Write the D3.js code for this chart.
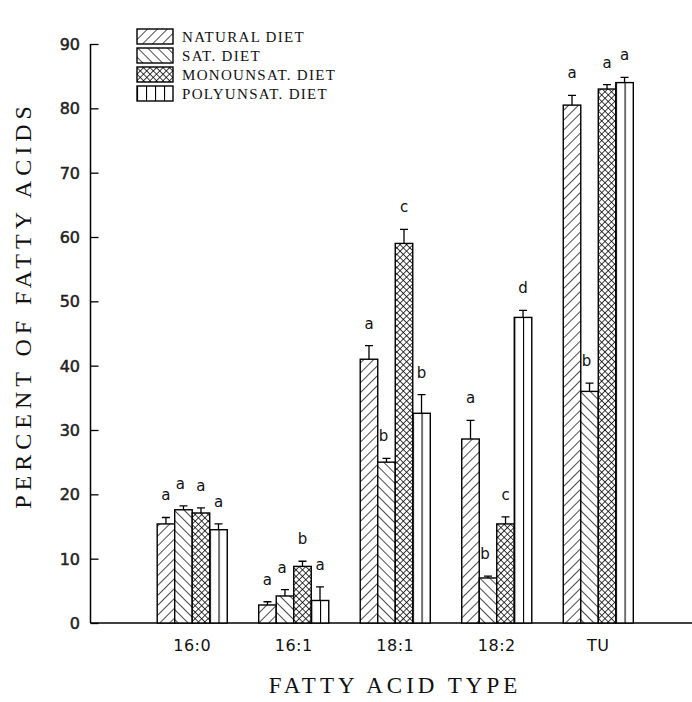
<!DOCTYPE html>
<html lang="en">
<head>
<meta charset="UTF-8">
<title>Fatty acids by diet</title>
<script src="https://cdn.jsdelivr.net/npm/d3@7/dist/d3.min.js"></script>
<style>
body{margin:0;background:#fff;}
svg{display:block;}
</style>
</head>
<body>
<script>
// data
var categories = ["16:0","16:1","18:1","18:2","TU"];
var seriesNames = ["NATURAL DIET","SAT. DIET","MONOUNSAT. DIET","POLYUNSAT. DIET"];
var natural    = [15.4, 2.8, 41.0, 28.6, 80.5];
var naturalErr = [1.0, 0.5, 2.1, 2.9, 1.5];
var sat        = [17.6, 4.2, 25.0, 7.0, 36.0];
var satErr     = [0.6, 1.0, 0.6, 0.3, 1.3];
var mono       = [17.1, 8.8, 59.0, 15.4, 83.0];
var monoErr    = [0.8, 0.8, 2.2, 1.1, 0.7];
var poly       = [14.5, 3.5, 32.6, 47.5, 84.0];
var polyErr    = [0.9, 2.1, 2.9, 1.1, 0.8];
var naturalLetters = ["a","a","a","a","a"];
var satLetters     = ["a","a","b","b","b"];
var monoLetters    = ["a","b","c","c","a"];
var polyLetters    = ["a","a","b","d","a"];
var yTicks = [0,10,20,30,40,50,60,70,80,90];

var width = 692, height = 702;
var svg = d3.select("body").append("svg").attr("width",width).attr("height",height);

// hatch patterns
var defs = svg.append("defs");
function hatch(id, angle, size, sw){
	var p = defs.append("pattern").attr("id",id).attr("patternUnits","userSpaceOnUse")
		.attr("width",size).attr("height",size).attr("patternTransform","rotate("+angle+")");
	p.append("rect").attr("width",size).attr("height",size).attr("fill","#fff");
	p.append("line").attr("x1",0).attr("y1",0).attr("x2",0).attr("y2",size)
		.attr("stroke","#000").attr("stroke-width",sw);
	return p;
}
hatch("pNat", 45, 7, 1.4);
hatch("pSat", -45, 7, 1.4);
var cross = hatch("pMono", 45, 4.6, 1.5);
cross.append("line").attr("x1",0).attr("y1",0).attr("x2",4.6).attr("y2",0)
	.attr("stroke","#000").attr("stroke-width",1.5);
// vertical lines for polyunsat: one in the middle of each bar
var pp = defs.append("pattern").attr("id","pPoly").attr("patternUnits","objectBoundingBox")
	.attr("width",0.5).attr("height",1);
pp.append("rect").attr("width",100).attr("height",1000).attr("fill","#fff");
pp.append("line").attr("x1",0.5).attr("y1",0).attr("x2",0.5).attr("y2",1000)
	.attr("stroke","#000").attr("stroke-width",1.2);
var pl = defs.append("pattern").attr("id","pPolyLeg").attr("patternUnits","objectBoundingBox")
	.attr("width",0.25).attr("height",1);
pl.append("rect").attr("width",100).attr("height",100).attr("fill","#fff");
pl.append("line").attr("x1",0.5).attr("y1",0).attr("x2",0.5).attr("y2",100)
	.attr("stroke","#000").attr("stroke-width",1.2);

var fills = ["url(#pNat)","url(#pSat)","url(#pMono)","url(#pPoly)"];
var legendFills = ["url(#pNat)","url(#pSat)","url(#pMono)","url(#pPolyLeg)"];

var series = [
	{name:seriesNames[0], values:natural, errs:naturalErr, letters:naturalLetters},
	{name:seriesNames[1], values:sat, errs:satErr, letters:satLetters},
	{name:seriesNames[2], values:mono, errs:monoErr, letters:monoLetters},
	{name:seriesNames[3], values:poly, errs:polyErr, letters:polyLetters}
];

var axisX = 90.5, baseY = 623, topY = 44;
var yScale = d3.scaleLinear().domain([0,90]).range([baseY, topY]);
var x0 = d3.scaleBand().domain(categories).range([axisX, 700]).paddingInner(0.31).paddingOuter(0.657);
var x1 = d3.scaleBand().domain(d3.range(series.length)).range([0, x0.bandwidth()]);

// y axis, ticks pointing inward
var yAxis = d3.axisRight(yScale).tickValues(yTicks).tickSize(8).tickFormat(d3.format("d"));
var gy = svg.append("g").attr("transform","translate("+axisX+",0)").call(yAxis);
gy.select(".domain").remove();
gy.selectAll(".tick text").remove();
gy.selectAll(".tick line").attr("stroke","#000").attr("stroke-width",1.3);
svg.append("line").attr("x1",axisX).attr("x2",axisX).attr("y1",topY).attr("y2",baseY)
	.attr("stroke","#000").attr("stroke-width",1.5);
svg.selectAll(".ylab").data(yTicks).enter().append("text").attr("class","ylab")
	.attr("x",80).attr("y",function(d){return yScale(d)+6;})
	.attr("text-anchor","end").attr("font-family","DejaVu Sans, sans-serif")
	.attr("font-size",16).attr("fill","#222").attr("stroke","#222").attr("stroke-width",0.5)
	.text(function(d){return d;});

// x axis line and category labels
svg.append("line").attr("x1",axisX).attr("x2",width).attr("y1",baseY).attr("y2",baseY)
	.attr("stroke","#000").attr("stroke-width",1.5);
svg.selectAll(".xlab").data(categories).enter().append("text").attr("class","xlab")
	.attr("x",function(d){return x0(d)+x0.bandwidth()/2;}).attr("y",651)
	.attr("text-anchor","middle").attr("font-family","DejaVu Sans, sans-serif")
	.attr("font-size",16).attr("letter-spacing",0.5).attr("fill","#111")
	.text(function(d){return d;});

// bars
var groups = svg.selectAll(".grp").data(series).enter().append("g").attr("class","grp");
groups.each(function(s, si){
	var g = d3.select(this);
	var rows = categories.map(function(c,i){return {c:c, v:s.values[i], e:s.errs[i], l:s.letters[i]};});
	g.selectAll("rect").data(rows).enter().append("rect")
		.attr("x",function(d){return x0(d.c)+x1(si);})
		.attr("y",function(d){return yScale(d.v);})
		.attr("width",x1.bandwidth())
		.attr("height",function(d){return baseY-yScale(d.v);})
		.attr("fill",fills[si]).attr("stroke","#000").attr("stroke-width",1.4);
	// upward error bars
	g.selectAll(".err").data(rows).enter().append("path").attr("class","err")
		.attr("d",function(d){
			var cx = x0(d.c)+x1(si)+x1.bandwidth()/2;
			var yt = yScale(d.v+d.e);
			return "M"+cx+","+yScale(d.v)+"V"+yt+"M"+(cx-4)+","+yt+"H"+(cx+4);
		})
		.attr("stroke","#000").attr("stroke-width",1.3).attr("fill","none");
	g.selectAll(".sig").data(rows).enter().append("text").attr("class","sig")
		.attr("x",function(d){return x0(d.c)+x1(si)+x1.bandwidth()/2+(si==1?-3:0);})
		.attr("y",function(d){return yScale(d.v+d.e)-17;})
		.attr("text-anchor","middle").attr("font-family","DejaVu Sans, sans-serif")
		.attr("font-size",15).attr("fill","#111")
		.text(function(d){return d.l;});
});

// legend
var leg = svg.append("g").attr("transform","translate(137,29)");
var li = leg.selectAll("g").data(seriesNames).enter().append("g")
	.attr("transform",function(d,i){return "translate(0,"+(i*19)+")";});
li.append("rect").attr("width",36).attr("height",15)
	.attr("fill",function(d,i){return legendFills[i];})
	.attr("stroke","#000").attr("stroke-width",1.4);
li.append("text").attr("x",45).attr("y",13).attr("font-family","Liberation Serif, Times New Roman, serif")
	.attr("font-size",15).attr("letter-spacing",1.3).attr("fill","#111")
	.text(function(d){return d;});

// axis titles
svg.append("text").attr("x",395).attr("y",693).attr("text-anchor","middle")
	.attr("font-family","Liberation Serif, Times New Roman, serif").attr("font-size",23)
	.attr("letter-spacing",4).attr("fill","#111").text("FATTY ACID TYPE");
svg.append("text").attr("transform","translate(31,305) rotate(-90)").attr("text-anchor","middle")
	.attr("font-family","Liberation Serif, Times New Roman, serif").attr("font-size",24)
	.attr("letter-spacing",5).attr("fill","#111").text("PERCENT OF FATTY ACIDS");
</script>
</body>
</html>
